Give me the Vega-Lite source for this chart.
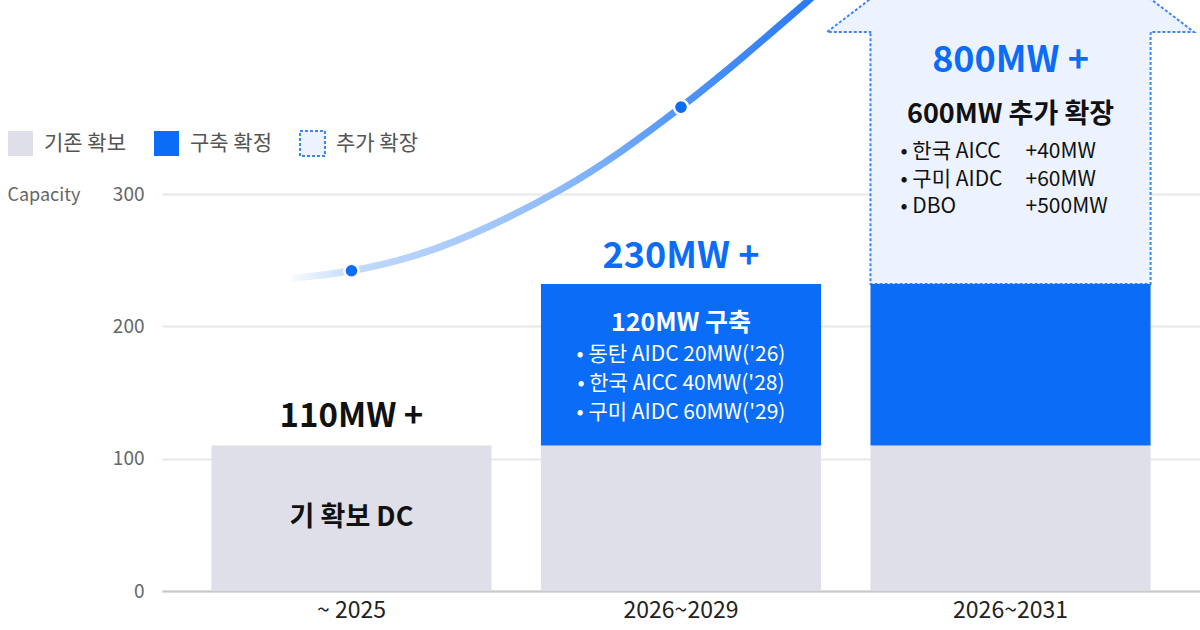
{
  "$schema": "https://vega.github.io/schema/vega-lite/v6.json",
  "width": 1038,
  "height": 591,
  "autosize": {"type": "none"},
  "padding": {"left": 162, "top": 0, "right": 0, "bottom": 39},
  "background": "white",
  "config": {
    "view": {"stroke": null},
    "font": "Noto Sans CJK KR",
    "text": {"font": "Noto Sans CJK KR"},
    "axisX": {"labelAngle": 0, "labelAlign": "center", "labelBaseline": "top"}
  },
  "datasets": {
    "bars": [
      {"period": "2026~2031", "type": "추가 확장", "start": 232, "end": 422.4},
      {"period": "~ 2025", "type": "기존 확보", "start": 0, "end": 110},
      {"period": "2026~2029", "type": "기존 확보", "start": 0, "end": 110},
      {"period": "2026~2031", "type": "기존 확보", "start": 0, "end": 110},
      {"period": "2026~2029", "type": "구축 확정", "start": 110, "end": 232},
      {"period": "2026~2031", "type": "구축 확정", "start": 110, "end": 232}
    ],
    "notes": [
      {"period": "~ 2025", "role": "total_existing", "anchor": 110, "text": "110MW +"},
      {"period": "~ 2025", "role": "label_existing", "anchor": 55, "text": "기 확보 DC"},
      {"period": "2026~2029", "role": "total_committed", "anchor": 232, "text": "230MW +"},
      {"period": "2026~2029", "role": "head_committed", "anchor": 232, "text": "120MW 구축"},
      {"period": "2026~2029", "role": "items_committed", "anchor": 232, "text": "• 동탄 AIDC 20MW('26)\n• 한국 AICC 40MW('28)\n• 구미 AIDC 60MW('29)"},
      {"period": "2026~2031", "role": "total_expansion", "anchor": 422.4, "text": "800MW +"},
      {"period": "2026~2031", "role": "head_expansion", "anchor": 422.4, "text": "600MW 추가 확장"},
      {"period": "2026~2031", "role": "items_expansion", "anchor": 422.4, "text": "• 한국 AICC\n• 구미 AIDC\n• DBO"},
      {"period": "2026~2031", "role": "amounts_expansion", "anchor": 422.4, "text": "+40MW\n+60MW\n+500MW"}
    ],
    "curve": [
      {"v": -0.1715, "cap": 236.5},
      {"v": 0, "cap": 242.0},
      {"v": 0.2079, "cap": 254.7},
      {"v": 0.4203, "cap": 275.8},
      {"v": 0.6328, "cap": 303.0},
      {"v": 0.8149, "cap": 331.7},
      {"v": 1, "cap": 365.7},
      {"v": 1.1912, "cap": 404.3},
      {"v": 1.3885, "cap": 446.6},
      {"v": 1.4825, "cap": 466.3}
    ],
    "milestones": [
      {"v": 0, "cap": 242.0},
      {"v": 1, "cap": 365.7}
    ]
  },
  "layer": [
    {
      "layer": [
        {
          "data": {"name": "bars"},
          "transform": [{"filter": "datum.type === '추가 확장'"}],
          "mark": {"type": "bar", "fill": "#EDF3FE", "stroke": "#3D86F5", "strokeWidth": 2, "strokeDash": [3, 2]},
          "encoding": {
            "x": {
              "field": "period",
              "type": "nominal",
              "title": null,
              "scale": {"domain": ["~ 2025", "2026~2029", "2026~2031"], "paddingInner": 0.15, "paddingOuter": 0.15},
              "axis": {
                "labelAngle": 0,
                "labelFontSize": 23,
                "labelColor": "#222222",
                "labelPadding": 8,
                "ticks": false,
                "domainColor": "#C8C8C8",
                "domainWidth": 2,
                "grid": false
              }
            },
            "y": {"field": "start", "type": "quantitative", "scale": {"domain": [0, 446.6], "nice": false}},
            "y2": {"field": "end"}
          }
        },
        {
          "data": {"name": "bars"},
          "transform": [{"filter": "datum.type !== '추가 확장'"}],
          "mark": {"type": "bar"},
          "encoding": {
            "x": {
              "field": "period",
              "type": "nominal",
              "title": null,
              "scale": {"domain": ["~ 2025", "2026~2029", "2026~2031"], "paddingInner": 0.15, "paddingOuter": 0.15},
              "axis": {
                "labelAngle": 0,
                "labelFontSize": 23,
                "labelColor": "#222222",
                "labelPadding": 8,
                "ticks": false,
                "domainColor": "#C8C8C8",
                "domainWidth": 2,
                "grid": false
              }
            },
            "y": {
              "field": "start",
              "type": "quantitative",
              "scale": {"domain": [0, 446.6], "nice": false},
              "axis": {
                "values": [0, 100, 200, 300],
                "title": "Capacity",
                "titleAngle": 0,
                "titleAlign": "left",
                "titleBaseline": "middle",
                "titleX": -155,
                "titleY": 195,
                "titleFontSize": 18,
                "titleFontWeight": "normal",
                "titleColor": "#666666",
                "labelFontSize": 19,
                "labelColor": "#666666",
                "labelPadding": 18,
                "ticks": false,
                "domain": false,
                "gridColor": "#E8E8E8",
                "gridWidth": 2
              }
            },
            "y2": {"field": "end"},
            "color": {
              "field": "type",
              "type": "nominal",
              "scale": {"domain": ["기존 확보", "구축 확정", "추가 확장"], "range": ["#DFDFE9", "#0A6CF7", "#EDF3FE"]},
              "legend": {
                "orient": "none",
                "legendX": -155,
                "legendY": 130,
                "direction": "horizontal",
                "title": null,
                "symbolType": "square",
                "symbolSize": 625,
                "symbolOpacity": 1,
                "labelFontSize": 21,
                "labelColor": "#555555",
                "labelOffset": 10,
                "columnPadding": 24,
                "encode": {
                  "symbols": {
                    "update": {
                      "stroke": {"signal": "datum.value === '추가 확장' ? '#3D86F5' : 'transparent'"},
                      "strokeDash": {"signal": "datum.value === '추가 확장' ? [3, 2] : [1, 0]"},
                      "strokeWidth": {"value": 2}
                    }
                  }
                }
              }
            }
          }
        },
        {
          "data": {"name": "bars"},
          "transform": [{"filter": "datum.type === '추가 확장'"}],
          "mark": {
            "type": "point",
            "shape": "M-0.764,0.008L-0.764,0L-1,0L0,-0.763L1,0L0.764,0L0.764,0.008",
            "size": 134689,
            "filled": true,
            "fill": "#EDF3FE",
            "stroke": "#3D86F5",
            "strokeWidth": 2,
            "strokeDash": [3, 2],
            "opacity": 1
          },
          "encoding": {
            "x": {"field": "period", "type": "nominal"},
            "y": {"field": "end", "type": "quantitative", "scale": {"domain": [0, 446.6], "nice": false}}
          }
        },
        {
          "data": {"name": "notes"},
          "transform": [{"filter": "datum.role === 'total_existing'"}],
          "mark": {"type": "text", "fontSize": 33, "fontWeight": "bold", "fill": "#111111", "dy": -28},
          "encoding": {
            "x": {"field": "period", "type": "nominal"},
            "y": {"field": "anchor", "type": "quantitative", "scale": {"domain": [0, 446.6], "nice": false}},
            "text": {"field": "text"}
          }
        },
        {
          "data": {"name": "notes"},
          "transform": [{"filter": "datum.role === 'label_existing'"}],
          "mark": {"type": "text", "fontSize": 27, "fontWeight": "bold", "fill": "#111111", "dy": 0},
          "encoding": {
            "x": {"field": "period", "type": "nominal"},
            "y": {"field": "anchor", "type": "quantitative", "scale": {"domain": [0, 446.6], "nice": false}},
            "text": {"field": "text"}
          }
        },
        {
          "data": {"name": "notes"},
          "transform": [{"filter": "datum.role === 'total_committed'"}],
          "mark": {"type": "text", "fontSize": 36, "fontWeight": "bold", "fill": "#0A6CF7", "dy": -27},
          "encoding": {
            "x": {"field": "period", "type": "nominal"},
            "y": {"field": "anchor", "type": "quantitative", "scale": {"domain": [0, 446.6], "nice": false}},
            "text": {"field": "text"}
          }
        },
        {
          "data": {"name": "notes"},
          "transform": [{"filter": "datum.role === 'head_committed'"}],
          "mark": {"type": "text", "fontSize": 25, "fontWeight": "bold", "fill": "#FFFFFF", "dy": 39},
          "encoding": {
            "x": {"field": "period", "type": "nominal"},
            "y": {"field": "anchor", "type": "quantitative", "scale": {"domain": [0, 446.6], "nice": false}},
            "text": {"field": "text"}
          }
        },
        {
          "data": {"name": "notes"},
          "transform": [{"filter": "datum.role === 'items_committed'"}],
          "mark": {"type": "text", "fontSize": 21, "fill": "#FFFFFF", "dy": 71, "lineBreak": "\n", "lineHeight": 29},
          "encoding": {
            "x": {"field": "period", "type": "nominal"},
            "y": {"field": "anchor", "type": "quantitative", "scale": {"domain": [0, 446.6], "nice": false}},
            "text": {"field": "text"}
          }
        },
        {
          "data": {"name": "notes"},
          "transform": [{"filter": "datum.role === 'total_expansion'"}],
          "mark": {"type": "text", "fontSize": 36, "fontWeight": "bold", "fill": "#0A6CF7", "dy": 29},
          "encoding": {
            "x": {"field": "period", "type": "nominal"},
            "y": {"field": "anchor", "type": "quantitative", "scale": {"domain": [0, 446.6], "nice": false}},
            "text": {"field": "text"}
          }
        },
        {
          "data": {"name": "notes"},
          "transform": [{"filter": "datum.role === 'head_expansion'"}],
          "mark": {"type": "text", "fontSize": 27, "fontWeight": "bold", "fill": "#111111", "dy": 83},
          "encoding": {
            "x": {"field": "period", "type": "nominal"},
            "y": {"field": "anchor", "type": "quantitative", "scale": {"domain": [0, 446.6], "nice": false}},
            "text": {"field": "text"}
          }
        },
        {
          "data": {"name": "notes"},
          "transform": [{"filter": "datum.role === 'items_expansion'"}],
          "mark": {"type": "text", "fontSize": 21, "fill": "#111111", "align": "left", "dx": -110, "dy": 120, "lineBreak": "\n", "lineHeight": 27.5},
          "encoding": {
            "x": {"field": "period", "type": "nominal"},
            "y": {"field": "anchor", "type": "quantitative", "scale": {"domain": [0, 446.6], "nice": false}},
            "text": {"field": "text"}
          }
        },
        {
          "data": {"name": "notes"},
          "transform": [{"filter": "datum.role === 'amounts_expansion'"}],
          "mark": {"type": "text", "fontSize": 21, "fill": "#111111", "align": "left", "dx": 15, "dy": 120, "lineBreak": "\n", "lineHeight": 27.5},
          "encoding": {
            "x": {"field": "period", "type": "nominal"},
            "y": {"field": "anchor", "type": "quantitative", "scale": {"domain": [0, 446.6], "nice": false}},
            "text": {"field": "text"}
          }
        }
      ]
    },
    {
      "layer": [
        {
          "data": {"name": "curve"},
          "mark": {
            "type": "line",
            "interpolate": "natural",
            "strokeWidth": 7,
            "strokeCap": "round",
            "stroke": {
              "gradient": "linear",
              "x1": 0, "y1": 0, "x2": 1, "y2": 0,
              "stops": [
                {"offset": 0, "color": "#F4F8FF"},
                {"offset": 0.107, "color": "#C2DAFC"},
                {"offset": 0.346, "color": "#A3C8FB"},
                {"offset": 0.495, "color": "#8AB9FA"},
                {"offset": 0.723, "color": "#4D93F7"},
                {"offset": 1, "color": "#2474F2"}
              ]
            }
          },
          "encoding": {
            "x": {"field": "v", "type": "quantitative", "scale": {"domain": [-0.5751, 2.5751], "nice": false, "zero": false}, "axis": null},
            "y": {"field": "cap", "type": "quantitative", "scale": {"domain": [0, 446.6], "nice": false}}
          }
        },
        {
          "data": {"name": "milestones"},
          "mark": {"type": "circle", "size": 200, "fill": "#0A6CF7", "stroke": "#FFFFFF", "strokeWidth": 2.5, "opacity": 1},
          "encoding": {
            "x": {"field": "v", "type": "quantitative", "scale": {"domain": [-0.5751, 2.5751], "nice": false, "zero": false}, "axis": null},
            "y": {"field": "cap", "type": "quantitative", "scale": {"domain": [0, 446.6], "nice": false}}
          }
        }
      ]
    }
  ],
  "resolve": {"scale": {"x": "independent"}}
}
